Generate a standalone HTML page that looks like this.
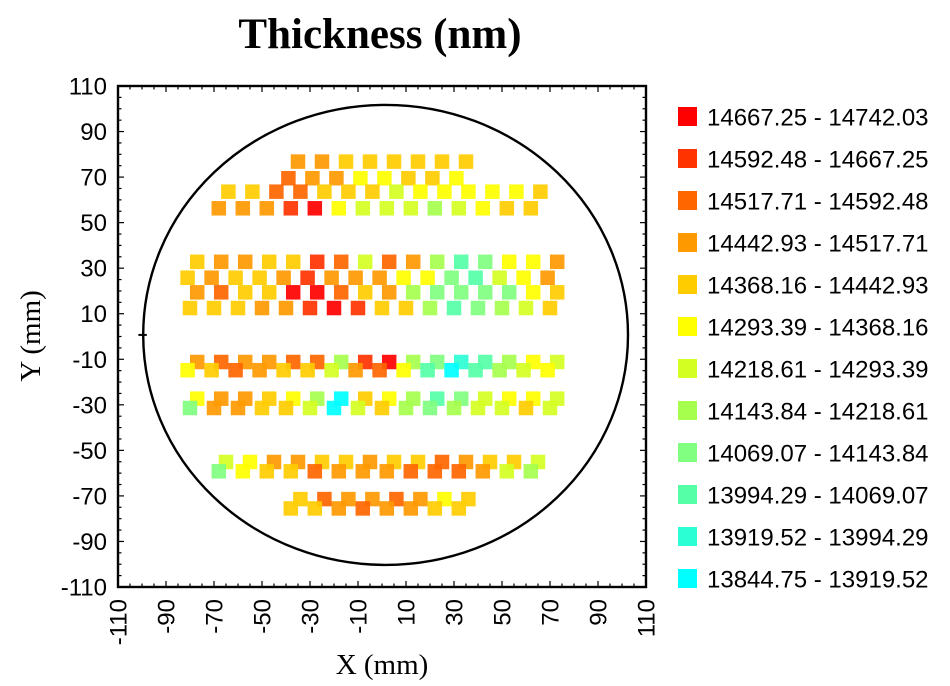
<!DOCTYPE html>
<html><head><meta charset="utf-8"><style>
body{margin:0;background:#fff;}
svg{display:block;}
</style></head><body>
<svg id="chart" width="950" height="686" viewBox="0 0 950 686" xmlns="http://www.w3.org/2000/svg">
<text x="380" y="48" text-anchor="middle" font-family="Liberation Serif, serif" font-weight="bold" font-size="43">Thickness (nm)</text>
<g id="plot"></g>
<g id="legend"></g>
</svg>
<script>
// bin edges (legend ranges, highest first)
const binLow = [14667.25,14592.48,14517.71,14442.93,14368.16,14293.39,14218.61,14143.84,14069.07,13994.29,13919.52,13844.75];
const binHigh = [14742.03,14667.25,14592.48,14517.71,14442.93,14368.16,14293.39,14218.61,14143.84,14069.07,13994.29,13919.52];
const binColors = ["#ff0000","#ff3300","#ff6600","#ff9900","#ffcc00","#ffff00","#d4ff22","#a6ff4d","#80ff80","#55ffa8","#2bffd4","#00ffff"];
// site rows: y (mm), first x (mm), step 10 mm
const rowY = [76.8,69.5,63.6,56.3,32.8,25.8,19.4,12.5,-11.2,-14.8,-27.3,-31.4,-55.1,-59.2,-71.4,-75.5];
const rowX0 = [-35,-39,-64,-68,-77,-81,-77,-80,-77,-81,-77,-80,-65,-68,-34,-38];
// thickness values per row (nm)
const rowValues = [
[14480,14480,14405,14405,14405,14405,14405,14405],
[14555,14480,14480,14330,14330,14405,14405,14330],
[14405,14405,14555,14555,14405,14405,14405,14255,14330,14330,14330,14330,14330,14405],
[14480,14480,14480,14630,14705,14330,14255,14255,14255,14180,14255,14330,14405,14405],
[14405,14480,14480,14405,14405,14630,14555,14255,14555,14480,14180,14030,14105,14330,14330,14480],
[14405,14480,14405,14405,14480,14630,14480,14480,14480,14330,14330,14105,14030,14255,14330,14480],
[14480,14555,14405,14405,14705,14705,14555,14405,14480,14180,14105,14105,14105,14105,14330,14405],
[14405,14405,14405,14480,14480,14630,14705,14630,14405,14405,14180,14030,14105,14180,14255,14405],
[14480,14555,14480,14480,14555,14555,14180,14630,14705,14180,14105,13955,14030,14180,14330,14255],
[14330,14405,14555,14480,14405,14405,14255,14480,14555,14330,14030,13880,14030,14180,14255,14330],
[14330,14480,14480,14405,14330,14180,13880,14405,14330,14180,14030,14105,14255,14330,14330,14255],
[14105,14480,14480,14405,14405,14255,13880,14255,14405,14180,14105,14180,14255,14255,14405,14255],
[14255,14330,14480,14480,14405,14405,14480,14405,14405,14555,14480,14405,14405,14255],
[14105,14330,14405,14405,14555,14480,14480,14480,14555,14555,14555,14480,14255,14180],
[14405,14555,14480,14480,14555,14480,14330,14405],
[14405,14405,14480,14555,14480,14480,14405,14405]
];
const xTicks = [-110,-90,-70,-50,-30,-10,10,30,50,70,90,110];
const yTicks = [110,90,70,50,30,10,-10,-30,-50,-70,-90,-110];

const NS = "http://www.w3.org/2000/svg";
const L=118, R=646, T=86, B=587;
const sx = v => L + (v + 110) / 220 * (R - L);
const sy = v => B - (v + 110) / 220 * (B - T);
function mk(tag, attrs, parent){const e=document.createElementNS(NS,tag);for(const k in attrs)e.setAttribute(k,attrs[k]);parent.appendChild(e);return e;}
function binOf(v){for(let i=0;i<binLow.length;i++){if(v>=binLow[i])return i;}return binLow.length-1;}
const plot=document.getElementById('plot');

// wafer outline
const wafer=mk('ellipse',{cx:sx(1.5),cy:sy(0.7),rx:(sx(101)-sx(0)),ry:(sy(0)-sy(101)),fill:'none',stroke:'#000','stroke-width':2.4},plot);


const notch=mk('line',{x1:sx(-101.5),x2:sx(-98),y1:sy(0.7),y2:sy(0.7),stroke:'#000','stroke-width':2},plot);



// sites
const S=14.5;
rowValues.forEach((vals,r)=>{
  vals.forEach((v,i)=>{
    const x=rowX0[r]+10*i, y=rowY[r];
    const rc=mk('rect',{x:sx(x)-S/2,y:sy(y)-S/2,width:S,height:S,fill:binColors[binOf(v)],'fill-opacity':0.92},plot);
    
    
  });
});

// frame
const frame=mk('rect',{x:L,y:T,width:R-L,height:B-T,fill:'none',stroke:'#000','stroke-width':2.4},plot);


// ticks every 5
for(let v=-110; v<=110; v+=5){
  const major=(v+110)%20===0, len=major?6:3.5;
  const X=sx(v), Y=sy(v);
  mk('line',{x1:X,x2:X,y1:B,y2:B-len,stroke:'#000','stroke-width':1.2},plot);
  mk('line',{x1:X,x2:X,y1:T,y2:T+len,stroke:'#000','stroke-width':1.2},plot);
  mk('line',{x1:L,x2:L+len,y1:Y,y2:Y,stroke:'#000','stroke-width':1.2},plot);
  mk('line',{x1:R,x2:R-len,y1:Y,y2:Y,stroke:'#000','stroke-width':1.2},plot);
}
xTicks.forEach(v=>{
  const t=mk('text',{x:0,y:0,transform:`translate(${sx(v)+8.5},599) rotate(-90)`,'text-anchor':'end','font-family':'Liberation Sans, sans-serif','font-size':24},plot);
  t.textContent=v;
  
  
});
yTicks.forEach(v=>{
  const t=mk('text',{x:107,y:sy(v)+8.5,'text-anchor':'end','font-family':'Liberation Sans, sans-serif','font-size':24},plot);
  t.textContent=v;
  
  
});
const xt=mk('text',{x:382,y:674,'text-anchor':'middle','font-family':'Liberation Serif, serif','font-size':29},plot);
xt.textContent='X (mm)';


const yt=mk('text',{x:0,y:0,transform:'translate(40,336) rotate(-90)','text-anchor':'middle','font-family':'Liberation Serif, serif','font-size':29},plot);
yt.textContent='Y (mm)';



// legend
const lg=document.getElementById('legend');
binLow.forEach((lo,i)=>{
  const cy=116.5+i*42;
  const g=mk('g',{},lg);
  
  
  mk('rect',{x:678,y:cy-9.5,width:19,height:19,fill:binColors[i]},g);
  const t=mk('text',{x:707,y:cy+9,'font-family':'Liberation Sans, sans-serif','font-size':24},g);
  t.textContent=lo.toFixed(2)+' - '+binHigh[i].toFixed(2);
});
</script>
</body></html>
